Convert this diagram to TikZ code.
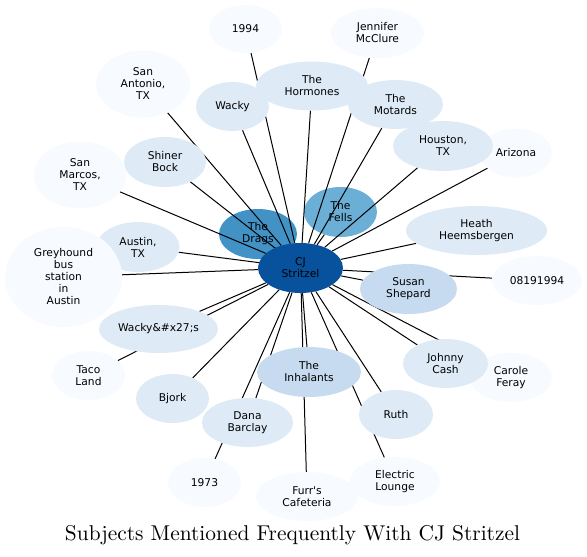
\documentclass[tikz,border=0pt]{standalone}
\usepackage{fontspec}
\newfontfamily\subjfont{DejaVu Sans}
\newfontfamily\titlefont{lmroman10-regular}[Extension=.otf]
\usetikzlibrary{shapes.geometric}

\pgfdeclarelayer{bottom}
\pgfdeclarelayer{edges}
\pgfsetlayers{bottom,edges,main}

\definecolor{blueA}{HTML}{F7FBFF}
\definecolor{blueB}{HTML}{DEEBF7}
\definecolor{blueC}{HTML}{C6DBEF}
\definecolor{blueD}{HTML}{6BAED6}
\definecolor{blueE}{HTML}{4292C6}
\definecolor{blueF}{HTML}{08519C}

\tikzset{
  subj/.style={ellipse, draw=none, inner sep=0pt, align=center,
    font=\subjfont\fontsize{10.7}{12}\selectfont},
  lvlA/.style={subj, fill=blueA},
  lvlB/.style={subj, fill=blueB},
  lvlC/.style={subj, fill=blueC},
  lvlD/.style={subj, fill=blueD},
  lvlE/.style={subj, fill=blueE},
  lvlF/.style={subj, fill=blueF},
  link/.style={draw=black, line width=1pt}
}

\begin{document}
\begin{tikzpicture}[x=1pt, y=-1pt]
  \useasboundingbox (0,0) rectangle (587,557);

  \begin{pgfonlayer}{bottom} %A: Nodes that the links cross
    \node[lvlE, minimum width=78, minimum height=50] (drags) at (258,234) {The\\Drags};
    \node[lvlD, minimum width=73, minimum height=50] (fells) at (340.5,212) {The\\Fells};
  \end{pgfonlayer}

  %A: Subjects
  \node[lvlA, minimum width=73, minimum height=48] (n1994) at (245.5,29) {1994};
  \node[lvlA, minimum width=94, minimum height=67] (sanantonio) at (143,84) {San\\Antonio,\\TX};
  \node[lvlB, minimum width=112, minimum height=49] (hormones) at (312,86) {The\\Hormones};
  \node[lvlB, minimum width=73, minimum height=49] (wacky) at (232.5,106.5) {Wacky};
  \node[lvlA, minimum width=93, minimum height=50] (mcclure) at (377.5,33) {Jennifer\\McClure};
  \node[lvlB, minimum width=95, minimum height=49] (motards) at (395.5,104.5) {The\\Motards};
  \node[lvlA, minimum width=72, minimum height=49] (arizona) at (516,153) {Arizona};
  \node[lvlB, minimum width=100, minimum height=50] (houston) at (443,146) {Houston,\\TX};
  \node[lvlB, minimum width=82, minimum height=50] (shiner) at (165,162) {Shiner\\Bock};
  \node[lvlA, minimum width=92, minimum height=67] (sanmarcos) at (80,175) {San\\Marcos,\\TX};
  \node[lvlB, minimum width=83, minimum height=50] (austin) at (138,247) {Austin,\\TX};
  \node[lvlA, minimum width=117, minimum height=100] (greyhound) at (63.5,277) {Greyhound\\bus\\station\\in\\Austin};
  \node[lvlB, minimum width=119, minimum height=48] (wackys) at (158.5,329) {Wacky\&\#x27;s};
  \node[lvlA, minimum width=73, minimum height=49] (taco) at (88.5,375.5) {Taco\\Land};
  \node[lvlB, minimum width=73, minimum height=49] (bjork) at (172.5,398.5) {Bjork};
  \node[lvlB, minimum width=91, minimum height=49] (dana) at (247.5,422.5) {Dana\\Barclay};
  \node[lvlA, minimum width=73, minimum height=49] (n1973) at (204.5,482.5) {1973};
  \node[lvlC, minimum width=104, minimum height=50] (inhalants) at (309,372) {The\\Inhalants};
  \node[lvlA, minimum width=102, minimum height=49] (furrs) at (307,496.5) {Furr's\\Cafeteria};
  \node[lvlB, minimum width=74, minimum height=49] (ruth) at (396,414.5) {Ruth};
  \node[lvlA, minimum width=90, minimum height=49] (electric) at (395,481.5) {Electric\\Lounge};
  \node[lvlA, minimum width=82, minimum height=49] (carole) at (511,377.5) {Carole\\Feray};
  \node[lvlB, minimum width=85, minimum height=49] (johnny) at (445.5,363.5) {Johnny\\Cash};
  \node[lvlB, minimum width=141, minimum height=49] (heath) at (476.5,230.5) {Heath\\Heemsbergen};
  \node[lvlC, minimum width=97, minimum height=50] (susan) at (408.5,289) {Susan\\Shepard};
  \node[lvlA, minimum width=90, minimum height=49] (n0819) at (537,280.5) {08191994};

  \node[lvlF, minimum width=85, minimum height=50] (hub) at (300.5,268) {CJ\\Stritzel};

  \begin{pgfonlayer}{edges} %A: Links from the hub
    \foreach \n in {n1994, sanantonio, hormones, wacky, mcclure, motards,
      arizona, houston, shiner, sanmarcos, drags, fells, austin, greyhound,
      wackys, taco, bjork, dana, n1973, inhalants, furrs, ruth, electric,
      carole, johnny, heath, susan, n0819}
      \draw[link] (hub) -- (\n);
  \end{pgfonlayer}

  \node (title) at (292.5,535) {\titlefont\fontsize{21.4}{25}\selectfont Subjects Mentioned Frequently With CJ Stritzel};
\end{tikzpicture}
\end{document}
